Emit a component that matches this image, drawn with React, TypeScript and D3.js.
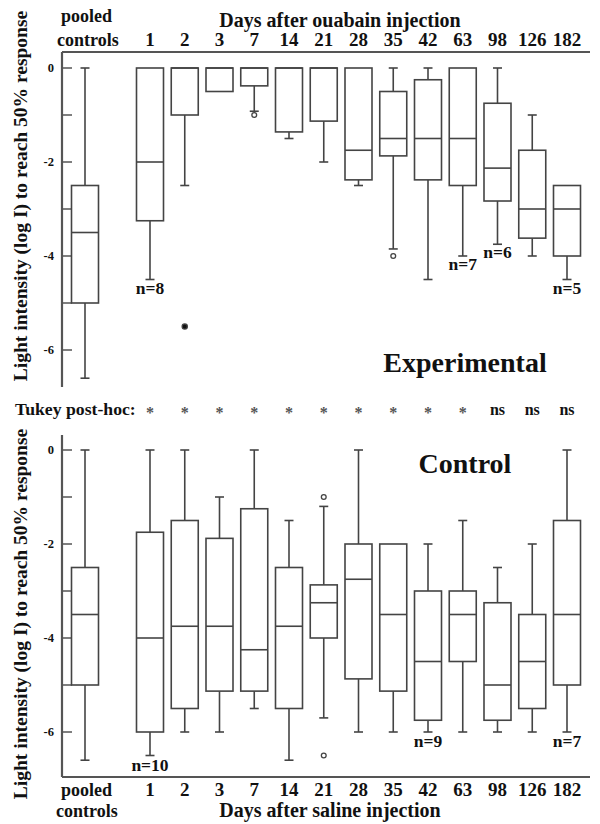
import React from "react";
import * as d3 from "d3";

const days = ["1", "2", "3", "7", "14", "21", "28", "35", "42", "63", "98", "126", "182"];
const groups = ["pooled", ...days];

// Experimental (ouabain) panel
const expMax = [0, 0, 0, 0, 0, 0, 0, 0, 0, 0, 0, 0, -1.0, -2.5];
const expQ3 = [-2.5, 0, 0, 0, 0, 0, 0, 0, -0.5, -0.25, 0, -0.75, -1.75, -2.5];
const expMed = [-3.5, -2.0, 0, 0, 0, 0, 0, -1.75, -1.5, -1.5, -1.5, -2.13, -3.0, -3.0];
const expQ1 = [-5.0, -3.25, -1.0, -0.5, -0.38, -1.36, -1.13, -2.38, -1.87, -2.38, -2.5, -2.83, -3.62, -4.0];
const expMin = [-6.6, -4.5, -2.5, -0.5, -0.92, -1.5, -2.0, -2.5, -3.85, -4.5, -4.0, -3.75, -4.0, -4.5];
const expOutlierGroups = ["2", "7", "35"];
const expOutlierValues = [-5.5, -1.0, -4.0];
const expOutlierFilled = [true, false, false];
const expNGroups = ["1", "63", "98", "182"];
const expNLabels = ["n=8", "n=7", "n=6", "n=5"];

// Control (saline) panel
const ctlMax = [0, 0, 0, -1.0, 0, -1.5, -1.2, 0, -2.0, -2.0, -1.5, -2.5, -2.0, 0];
const ctlQ3 = [-2.5, -1.75, -1.5, -1.88, -1.25, -2.5, -2.87, -2.0, -2.0, -3.0, -3.0, -3.25, -3.5, -1.5];
const ctlMed = [-3.5, -4.0, -3.75, -3.75, -4.25, -3.75, -3.25, -2.75, -3.5, -4.5, -3.5, -5.0, -4.5, -3.5];
const ctlQ1 = [-5.0, -6.0, -5.5, -5.13, -5.13, -5.5, -4.0, -4.87, -5.13, -5.75, -4.5, -5.75, -5.5, -5.0];
const ctlMin = [-6.6, -6.5, -6.0, -6.0, -5.5, -6.6, -5.7, -6.0, -6.0, -6.0, -6.0, -6.0, -6.0, -6.0];
const ctlOutlierGroups = ["21", "21"];
const ctlOutlierValues = [-1.0, -6.5];
const ctlOutlierFilled = [false, false];
const ctlNGroups = ["1", "42", "182"];
const ctlNLabels = ["n=10", "n=9", "n=7"];

const tukey = ["*", "*", "*", "*", "*", "*", "*", "*", "*", "*", "ns", "ns", "ns"];
const yTickValues = [0, -1, -2, -3, -4, -5, -6];
const yLabelValues = [0, -2, -4, -6];

const yTitle = "Light intensity (log I) to reach 50% response";
const FONT = "'Liberation Serif', 'Times New Roman', serif";
const LINE = "#444";
const AXIS = "#555";
const TEXT = "#111";

const xDays = d3.scalePoint<string>().domain(days).range([150, 567]);
const xPos = (g: string) => (g === "pooled" ? 85 : (xDays(g) as number));

const yTop = d3.scaleLinear().domain([0, -6]).range([68, 350]);
const yBot = d3.scaleLinear().domain([0, -6]).range([450, 732]);

const BOX_W = 27;
const CAP_W = 9;

type Panel = {
  y: d3.ScaleLinear<number, number>;
  max: number[];
  q3: number[];
  med: number[];
  q1: number[];
  min: number[];
  oG: string[];
  oV: number[];
  oF: boolean[];
  nG: string[];
  nL: string[];
  nOffset: number;
};

function Boxes({ p }: { p: Panel }) {
  const { y } = p;
  return (
    <g>
      {groups.map((g, i) => {
        const cx = xPos(g);
        const x0 = cx - BOX_W / 2;
        const yMax = y(p.max[i]);
        const yQ3 = y(p.q3[i]);
        const yMed = y(p.med[i]);
        const yQ1 = y(p.q1[i]);
        const yMin = y(p.min[i]);
        return (
          <g key={g} stroke={LINE} strokeWidth={1.6} fill="none">
            {yQ3 - yMax > 0.5 && (
              <>
                <line x1={cx} x2={cx} y1={yMax} y2={yQ3} />
                <line x1={cx - CAP_W / 2} x2={cx + CAP_W / 2} y1={yMax} y2={yMax} />
              </>
            )}
            {yMin - yQ1 > 0.5 && (
              <>
                <line x1={cx} x2={cx} y1={yQ1} y2={yMin} />
                <line x1={cx - CAP_W / 2} x2={cx + CAP_W / 2} y1={yMin} y2={yMin} />
              </>
            )}
            <rect x={x0} y={yQ3} width={BOX_W} height={yQ1 - yQ3} fill="white" />
            <line x1={x0} x2={x0 + BOX_W} y1={yMed} y2={yMed} />
          </g>
        );
      })}
      {p.oG.map((g, i) => (
        <circle
          key={"o" + i}
          cx={xPos(g)}
          cy={y(p.oV[i])}
          r={p.oF[i] ? 2.6 : 2.4}
          fill={p.oF[i] ? "#111" : "white"}
          stroke={LINE}
          strokeWidth={1.3}
        />
      ))}
      {p.nG.map((g, i) => {
        const gi = groups.indexOf(g);
        return (
          <text
            key={"n" + i}
            x={xPos(g)}
            y={y(p.min[gi]) + p.nOffset}
            textAnchor="middle"
            fontSize={17.5}
            fontWeight="bold"
            fill={TEXT}
          >
            {p.nL[i]}
          </text>
        );
      })}
    </g>
  );
}

function YAxis({ y }: { y: d3.ScaleLinear<number, number> }) {
  return (
    <g>
      {yTickValues.map((v) => (
        <line key={v} x1={62} x2={72} y1={y(v)} y2={y(v)} stroke={AXIS} strokeWidth={1.5} />
      ))}
      {yLabelValues.map((v) => (
        <text
          key={"l" + v}
          x={54}
          y={y(v) + 4}
          textAnchor="end"
          fontSize={12.5}
          fontWeight="bold"
          fill={TEXT}
        >
          {v === 0 ? "0" : "-" + Math.abs(v)}
        </text>
      ))}
    </g>
  );
}

export default function App() {
  const top: Panel = {
    y: yTop,
    max: expMax,
    q3: expQ3,
    med: expMed,
    q1: expQ1,
    min: expMin,
    oG: expOutlierGroups,
    oV: expOutlierValues,
    oF: expOutlierFilled,
    nG: expNGroups,
    nL: expNLabels,
    nOffset: 14,
  };
  const bot: Panel = {
    y: yBot,
    max: ctlMax,
    q3: ctlQ3,
    med: ctlMed,
    q1: ctlQ1,
    min: ctlMin,
    oG: ctlOutlierGroups,
    oV: ctlOutlierValues,
    oF: ctlOutlierFilled,
    nG: ctlNGroups,
    nL: ctlNLabels,
    nOffset: 15,
  };

  return (
    <svg
      width={600}
      height={824}
      viewBox="0 0 600 824"
      style={{ position: "absolute", left: 0, top: 0, background: "white" }}
      fontFamily={FONT}
    >
      <rect x={0} y={0} width={600} height={824} fill="white" />

      {/* Top panel header */}
      <text x={61} y={22} fontSize={18} fontWeight="bold" fill={TEXT}>pooled</text>
      <text x={57} y={46} fontSize={18} fontWeight="bold" fill={TEXT}>controls</text>
      <text x={340} y={27} textAnchor="middle" fontSize={20} fontWeight="bold" fill={TEXT}>
        Days after ouabain injection
      </text>
      {days.map((d) => (
        <text key={"t" + d} x={xDays(d)} y={46} textAnchor="middle" fontSize={19} fontWeight="bold" fill={TEXT}>
          {d}
        </text>
      ))}
      <line x1={62} x2={590} y1={52} y2={52} stroke={AXIS} strokeWidth={2.2} />
      <line x1={62} x2={62} y1={52} y2={387} stroke={AXIS} strokeWidth={2.2} />
      <YAxis y={yTop} />
      <Boxes p={top} />
      <text x={465} y={372} textAnchor="middle" fontSize={28} fontWeight="bold" fill={TEXT}>
        Experimental
      </text>
      <text
        transform={`translate(27, 196) rotate(-90)`}
        textAnchor="middle"
        fontSize={19.5}
        fontWeight="bold"
        fill={TEXT}
      >
        {yTitle}
      </text>

      {/* Tukey row */}
      <text x={15} y={415} fontSize={17.7} fontWeight="bold" fill={TEXT}>Tukey post-hoc:</text>
      {days.map((d, i) => (
        <text
          key={"k" + d}
          x={xDays(d)}
          y={tukey[i] === "*" ? 418 : 415}
          textAnchor="middle"
          fontSize={16}
          fontWeight="bold"
          fill={tukey[i] === "*" ? "#555" : TEXT}
        >
          {tukey[i]}
        </text>
      ))}

      {/* Bottom panel */}
      <line x1={62} x2={62} y1={435} y2={777} stroke={AXIS} strokeWidth={2.2} />
      <line x1={62} x2={590} y1={777} y2={777} stroke={AXIS} strokeWidth={2.2} />
      <YAxis y={yBot} />
      <Boxes p={bot} />
      <text x={465} y={473} textAnchor="middle" fontSize={28} fontWeight="bold" fill={TEXT}>
        Control
      </text>
      <text
        transform={`translate(27, 614) rotate(-90)`}
        textAnchor="middle"
        fontSize={19.5}
        fontWeight="bold"
        fill={TEXT}
      >
        {yTitle}
      </text>
      <text x={61} y={796} fontSize={18} fontWeight="bold" fill={TEXT}>pooled</text>
      <text x={56} y={817} fontSize={18} fontWeight="bold" fill={TEXT}>controls</text>
      {days.map((d) => (
        <text key={"b" + d} x={xDays(d)} y={796} textAnchor="middle" fontSize={19} fontWeight="bold" fill={TEXT}>
          {d}
        </text>
      ))}
      <text x={330} y={817} textAnchor="middle" fontSize={20} fontWeight="bold" fill={TEXT}>
        Days after saline injection
      </text>
    </svg>
  );
}
